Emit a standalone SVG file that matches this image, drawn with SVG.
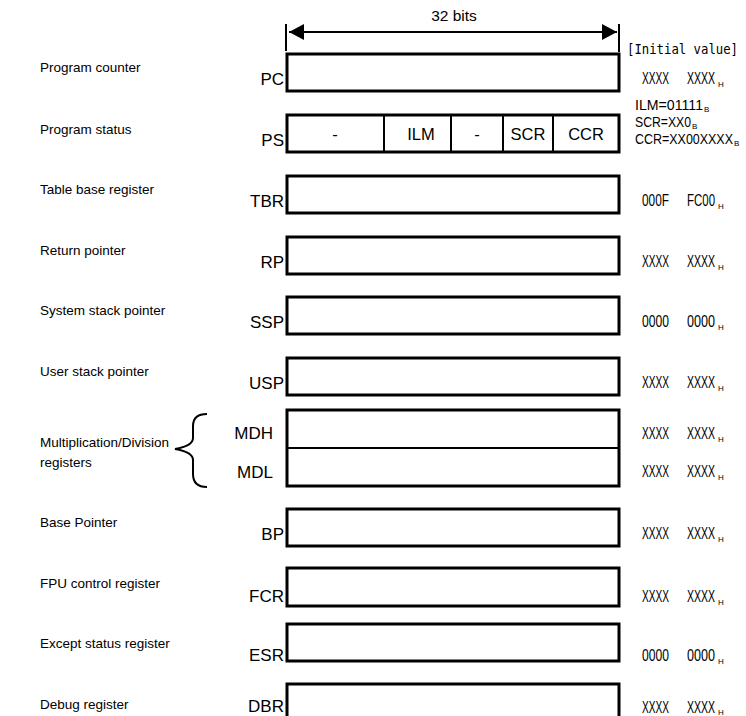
<svg xmlns="http://www.w3.org/2000/svg" width="746" height="716" viewBox="0 0 746 716">
<style>
.bg{fill:#fff}
.box{fill:#fff;stroke:#000;stroke-width:3}
.div{stroke:#000;stroke-width:2;fill:none}
.lbl{font-family:"Liberation Sans",Arial,sans-serif;font-size:13.5px;fill:#000}
.reg{font-family:"Liberation Sans",Arial,sans-serif;font-size:17px;fill:#000;text-anchor:end}
.fld{font-family:"Liberation Sans",Arial,sans-serif;font-size:16.5px;fill:#000;text-anchor:middle}
.iv{font-family:"Liberation Sans",Arial,sans-serif;font-size:16.5px;fill:#000}
.ivs{font-family:"Liberation Sans",Arial,sans-serif;font-size:15px;fill:#000}
.hd{font-family:"DejaVu Sans Mono","Liberation Mono",monospace;font-size:14.5px;fill:#000}
.sub{font-family:"Liberation Sans",Arial,sans-serif;font-size:8px;fill:#000}
.ln{stroke:#000;stroke-width:2;fill:none}
</style>
<defs>
<marker id="ah" viewBox="0 0 10 10" refX="10" refY="5" markerWidth="15" markerHeight="16" markerUnits="userSpaceOnUse" orient="auto-start-reverse" preserveAspectRatio="none">
<path d="M0,0 L10,5 L0,10 Z" fill="#000"/>
</marker>
</defs>
<rect class="bg" x="0" y="0" width="746" height="716"/>

<g id="connectors">
<line class="ln" x1="286" y1="24" x2="286" y2="51"/>
<line class="ln" x1="619" y1="24" x2="619" y2="52"/>
<line class="ln" stroke-width="3" x1="289" y1="32" x2="617" y2="32" marker-start="url(#ah)" marker-end="url(#ah)"/>
<path class="ln" stroke-width="1" stroke="#222" d="M207,414 Q193,414 193,426 L193,438 Q193,446 175,449 Q193,452 193,460 L193,474 Q193,487 207,487"/>
</g>

<g id="header">
<text class="lbl" x="454" y="21" text-anchor="middle" style="font-size:15.5px">32 bits</text>
<text class="hd" x="627" y="54" textLength="111" lengthAdjust="spacingAndGlyphs">[Initial value]</text>
</g>

<g id="pc">
<text class="lbl" x="40" y="72">Program counter</text>
<text class="reg" x="284" y="85">PC</text>
<rect class="box" x="287" y="54" width="332" height="37"/>
<text class="iv" x="642" y="84" textLength="27" lengthAdjust="spacingAndGlyphs">XXXX</text><text class="iv" x="687" y="84" textLength="28" lengthAdjust="spacingAndGlyphs">XXXX</text><text class="sub" x="718" y="87">H</text>
</g>

<g id="ps">
<text class="lbl" x="40" y="134">Program status</text>
<text class="reg" x="284" y="146">PS</text>
<rect class="box" x="287" y="115" width="332" height="37"/>
<line class="div" x1="384" y1="115" x2="384" y2="152"/>
<line class="div" x1="451" y1="115" x2="451" y2="152"/>
<line class="div" x1="503" y1="115" x2="503" y2="152"/>
<line class="div" x1="553" y1="115" x2="553" y2="152"/>
<text class="fld" x="335" y="140">-</text>
<text class="fld" x="421" y="140">ILM</text>
<text class="fld" x="477" y="140">-</text>
<text class="fld" x="528" y="140">SCR</text>
<text class="fld" x="586" y="140">CCR</text>
<text class="ivs" x="635" y="110" textLength="68" lengthAdjust="spacingAndGlyphs">ILM=01111</text><text class="sub" x="704" y="112">B</text>
<text class="ivs" x="635" y="127" textLength="56" lengthAdjust="spacingAndGlyphs">SCR=XX0</text><text class="sub" x="692" y="129">B</text>
<text class="ivs" x="635" y="144" textLength="98" lengthAdjust="spacingAndGlyphs">CCR=XX00XXXX</text><text class="sub" x="734" y="146">B</text>
</g>

<g id="tbr">
<text class="lbl" x="40" y="194">Table base register</text>
<text class="reg" x="284" y="207">TBR</text>
<rect class="box" x="287" y="176" width="332" height="37"/>
<text class="iv" x="642" y="206" textLength="27" lengthAdjust="spacingAndGlyphs">000F</text><text class="iv" x="687" y="206" textLength="28" lengthAdjust="spacingAndGlyphs">FC00</text><text class="sub" x="718" y="209">H</text>
</g>

<g id="rp">
<text class="lbl" x="40" y="255">Return pointer</text>
<text class="reg" x="284" y="268">RP</text>
<rect class="box" x="287" y="237" width="332" height="37"/>
<text class="iv" x="642" y="267" textLength="27" lengthAdjust="spacingAndGlyphs">XXXX</text><text class="iv" x="687" y="267" textLength="28" lengthAdjust="spacingAndGlyphs">XXXX</text><text class="sub" x="718" y="270">H</text>
</g>

<g id="ssp">
<text class="lbl" x="40" y="315">System stack pointer</text>
<text class="reg" x="284" y="328">SSP</text>
<rect class="box" x="287" y="297" width="332" height="37"/>
<text class="iv" x="642" y="327" textLength="27" lengthAdjust="spacingAndGlyphs">0000</text><text class="iv" x="687" y="327" textLength="28" lengthAdjust="spacingAndGlyphs">0000</text><text class="sub" x="718" y="330">H</text>
</g>

<g id="usp">
<text class="lbl" x="40" y="376">User stack pointer</text>
<text class="reg" x="284" y="389">USP</text>
<rect class="box" x="287" y="358" width="332" height="37"/>
<text class="iv" x="642" y="388" textLength="27" lengthAdjust="spacingAndGlyphs">XXXX</text><text class="iv" x="687" y="388" textLength="28" lengthAdjust="spacingAndGlyphs">XXXX</text><text class="sub" x="718" y="391">H</text>
</g>

<g id="md">
<text class="lbl" x="40" y="447">Multiplication/Division</text>
<text class="lbl" x="40" y="467">registers</text>
<text class="reg" x="273" y="439">MDH</text>
<text class="reg" x="273" y="478">MDL</text>
<rect class="box" x="287" y="410" width="332" height="76"/>
<line class="div" x1="287" y1="448" x2="619" y2="448"/>
<text class="iv" x="642" y="439" textLength="27" lengthAdjust="spacingAndGlyphs">XXXX</text><text class="iv" x="687" y="439" textLength="28" lengthAdjust="spacingAndGlyphs">XXXX</text><text class="sub" x="718" y="442">H</text>
<text class="iv" x="642" y="477" textLength="27" lengthAdjust="spacingAndGlyphs">XXXX</text><text class="iv" x="687" y="477" textLength="28" lengthAdjust="spacingAndGlyphs">XXXX</text><text class="sub" x="718" y="480">H</text>
</g>

<g id="bp">
<text class="lbl" x="40" y="527">Base Pointer</text>
<text class="reg" x="284" y="540">BP</text>
<rect class="box" x="287" y="509" width="332" height="37"/>
<text class="iv" x="642" y="539" textLength="27" lengthAdjust="spacingAndGlyphs">XXXX</text><text class="iv" x="687" y="539" textLength="28" lengthAdjust="spacingAndGlyphs">XXXX</text><text class="sub" x="718" y="542">H</text>
</g>

<g id="fcr">
<text class="lbl" x="40" y="588">FPU control register</text>
<text class="reg" x="284" y="602">FCR</text>
<rect class="box" x="287" y="568" width="332" height="38"/>
<text class="iv" x="642" y="602" textLength="27" lengthAdjust="spacingAndGlyphs">XXXX</text><text class="iv" x="687" y="602" textLength="28" lengthAdjust="spacingAndGlyphs">XXXX</text><text class="sub" x="718" y="605">H</text>
</g>

<g id="esr">
<text class="lbl" x="40" y="648">Except status register</text>
<text class="reg" x="284" y="661">ESR</text>
<rect class="box" x="287" y="624" width="332" height="37"/>
<text class="iv" x="642" y="661" textLength="27" lengthAdjust="spacingAndGlyphs">0000</text><text class="iv" x="687" y="661" textLength="28" lengthAdjust="spacingAndGlyphs">0000</text><text class="sub" x="718" y="664">H</text>
</g>

<g id="dbr">
<text class="lbl" x="40" y="709">Debug register</text>
<text class="reg" x="284" y="712">DBR</text>
<rect class="box" x="287" y="684" width="332" height="37"/>
<text class="iv" x="642" y="713" textLength="27" lengthAdjust="spacingAndGlyphs">XXXX</text><text class="iv" x="687" y="713" textLength="28" lengthAdjust="spacingAndGlyphs">XXXX</text><text class="sub" x="718" y="715">H</text>
</g>
</svg>
